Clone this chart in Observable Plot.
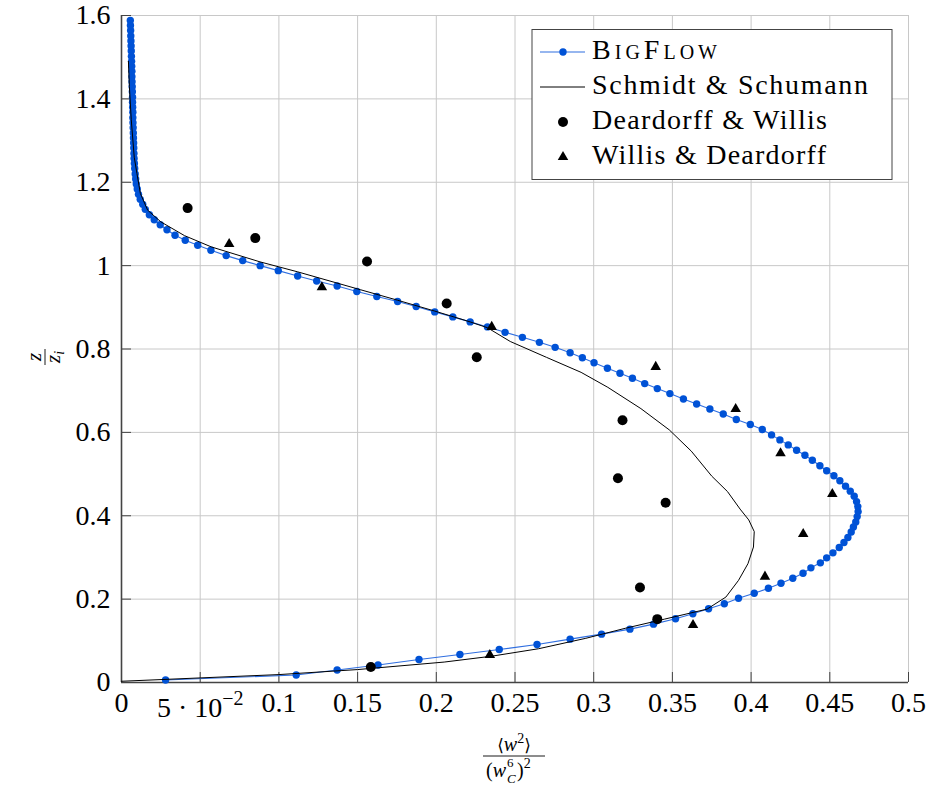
<!DOCTYPE html>
<html>
<head>
<meta charset="utf-8">
<script src="https://cdn.jsdelivr.net/npm/d3@7"></script>
<script src="https://cdn.jsdelivr.net/npm/@observablehq/plot@0.6"></script>
<style>
  body { margin: 0; background: #fff; }
  #chart { width: 928px; height: 787px; }
</style>
</head>
<body>
<div id="chart"></div>
<script>
// Vertical velocity variance profiles in a convective boundary layer: [<w²>/(w_C)², z/z_i]
const bigflowProfile = [
  [0.028,0.006],[0.111,0.018],[0.137,0.030],[0.163,0.042],[0.189,0.055],[0.215,0.067],
  [0.240,0.079],[0.264,0.091],[0.285,0.104],[0.305,0.116],[0.323,0.128],[0.338,0.140],
  [0.352,0.153],[0.363,0.165],[0.373,0.177],[0.383,0.189],[0.392,0.202],[0.402,0.214],
  [0.411,0.226],[0.419,0.238],[0.4265,0.250],[0.433,0.262],[0.438,0.275],[0.444,0.287],
  [0.448,0.299],[0.452,0.311],[0.456,0.324],[0.459,0.336],[0.4615,0.348],[0.4636,0.361],
  [0.465,0.373],[0.4665,0.385],[0.4674,0.398],[0.468,0.410],[0.4678,0.422],[0.467,0.434],
  [0.4655,0.447],[0.463,0.459],[0.460,0.471],[0.4564,0.484],[0.4526,0.496],[0.448,0.508],
  [0.4437,0.520],[0.4389,0.533],[0.4342,0.545],[0.4289,0.557],[0.4236,0.570],[0.4183,0.582],
  [0.413,0.594],[0.4071,0.607],[0.3995,0.619],[0.3906,0.631],[0.3823,0.644],[0.3738,0.656],
  [0.3654,0.668],[0.357,0.680],[0.3484,0.693],[0.3404,0.705],[0.3324,0.717],[0.3246,0.730],
  [0.3167,0.742],[0.3087,0.754],[0.3002,0.767],[0.2928,0.779],[0.285,0.791],[0.2755,0.804],
  [0.2655,0.816],[0.2547,0.828],[0.2437,0.840],[0.2325,0.853],[0.2215,0.865],[0.2105,0.877],
  [0.199,0.889],[0.1872,0.902],[0.1754,0.914],[0.1622,0.926],[0.1495,0.938],[0.137,0.951],
  [0.124,0.963],[0.1119,0.975],[0.0996,0.988],[0.0881,1.000],[0.077,1.012],[0.0665,1.024],
  [0.0568,1.037],[0.0484,1.049],[0.0405,1.061],[0.034,1.073],[0.0289,1.086],[0.0246,1.098],
  [0.0208,1.110],[0.0177,1.122],[0.0151,1.135],[0.0135,1.147],[0.0119,1.159],[0.0108,1.171],
  [0.0100,1.184],[0.0094,1.196],[0.0090,1.208],[0.0087,1.220],[0.0084,1.233],[0.0082,1.245],
  [0.0080,1.257],[0.0079,1.269],[0.0078,1.282],[0.0077,1.294],[0.0076,1.306],[0.0075,1.318],
  [0.0074,1.331],[0.0073,1.343],[0.0072,1.355],[0.0072,1.368],[0.0071,1.380],[0.0070,1.392],
  [0.0070,1.404],[0.0069,1.417],[0.0068,1.429],[0.0067,1.441],[0.0066,1.453],[0.0066,1.466],
  [0.0065,1.478],[0.0064,1.490],[0.0063,1.502],[0.0062,1.515],[0.0061,1.527],[0.0060,1.539],
  [0.0059,1.551],[0.0058,1.564],[0.0057,1.576],[0.0056,1.588]
];

const schmidtSchumann = [
  [0.000,0.003],[0.050,0.011],[0.100,0.019],[0.150,0.031],[0.205,0.049],[0.235,0.063],
  [0.265,0.081],[0.295,0.106],[0.320,0.130],[0.345,0.152],[0.372,0.176],[0.384,0.205],
  [0.392,0.245],[0.398,0.285],[0.4015,0.325],[0.402,0.362],[0.3985,0.390],[0.393,0.416],
  [0.385,0.458],[0.375,0.495],[0.362,0.555],[0.348,0.606],[0.330,0.657],[0.309,0.708],
  [0.292,0.744],[0.270,0.780],[0.247,0.818],[0.2325,0.851],[0.2215,0.865],[0.199,0.891],
  [0.1754,0.917],[0.152,0.942],[0.112,0.985],[0.088,1.009],[0.057,1.045],[0.040,1.072],
  [0.025,1.105],[0.0166,1.133],[0.012,1.173],[0.0098,1.221],[0.0081,1.260],[0.0062,1.350],
  [0.0050,1.430],[0.0044,1.490]
];

const deardorffWillis = [
  [0.042,1.138],[0.085,1.066],[0.156,1.010],[0.2066,0.909],[0.2257,0.780],[0.3183,0.629],
  [0.3154,0.490],[0.3457,0.431],[0.3294,0.228],[0.3404,0.152],[0.1584,0.037]
];

const willisDeardorff = [
  [0.0684,1.052],[0.1273,0.948],[0.2352,0.853],[0.3394,0.757],[0.3902,0.656],[0.4187,0.550],
  [0.4516,0.452],[0.4331,0.356],[0.4088,0.254],[0.3631,0.138],[0.234,0.066]
];

const seriesNames = ["BigFlow", "Schmidt & Schumann", "Deardorff & Willis", "Willis & Deardorff"];

const xTicks = [0, 0.05, 0.1, 0.15, 0.2, 0.25, 0.3, 0.35, 0.4, 0.45, 0.5];
const xTickLabels = ["0", "5 · 10^−2", "0.1", "0.15", "0.2", "0.25", "0.3", "0.35", "0.4", "0.45", "0.5"];
const yTicks = [0, 0.2, 0.4, 0.6, 0.8, 1, 1.2, 1.4, 1.6];
const yTickLabels = ["0", "0.2", "0.4", "0.6", "0.8", "1", "1.2", "1.4", "1.6"];

const blueDot = "#0052d6";
const blueLine = "#2f6ee0";
const gridColor = "#c8c8c8";
const axisColor = "#444";
const serif = '"Liberation Serif", "Times New Roman", serif';

const W = 928, H = 787;
const mL = 121, mR = 20, mT = 15, mB = 105;
const frameW = W - mL - mR, frameH = H - mT - mB;

const toRows = arr => arr.map(([x, z]) => ({x, z}));
const xLabelOf = new Map(xTicks.map((t, i) => [t, xTickLabels[i]]));
const yLabelOf = new Map(yTicks.map((t, i) => [t, yTickLabels[i]]));

const plot = Plot.plot({
  width: W, height: H,
  marginLeft: mL, marginRight: mR, marginTop: mT, marginBottom: mB,
  style: {fontFamily: serif, fontSize: "28px", background: "#fff", color: "#000", overflow: "visible"},
  x: {domain: [0, 0.5]},
  y: {domain: [0, 1.6]},
  marks: [
    Plot.gridX(xTicks, {stroke: gridColor, strokeOpacity: 1, strokeWidth: 1}),
    Plot.gridY(yTicks, {stroke: gridColor, strokeOpacity: 1, strokeWidth: 1}),
    // inward tick marks on the bottom and left axes
    Plot.ruleX(xTicks, {x: d => d, insetTop: frameH - 10, stroke: axisColor, strokeWidth: 1}),
    Plot.ruleY(yTicks, {y: d => d, insetRight: frameW - 10, stroke: axisColor, strokeWidth: 1}),
    Plot.ruleX([0], {stroke: axisColor, strokeWidth: 1.6}),
    Plot.ruleY([0], {stroke: axisColor, strokeWidth: 1.6}),
    Plot.axisX(xTicks, {tickSize: 0, tickPadding: 10, tickFormat: d => xLabelOf.get(d), label: null, fontSize: 28}),
    Plot.axisY(yTicks, {tickSize: 0, tickPadding: 11, tickFormat: d => yLabelOf.get(d), label: null, fontSize: 28}),
    // BigFlow profile
    Plot.line(toRows(bigflowProfile), {x: "x", y: "z", stroke: blueLine, strokeWidth: 1.1}),
    Plot.dot(toRows(bigflowProfile), {x: "x", y: "z", r: 3.7, fill: blueDot}),
    // Schmidt & Schumann
    Plot.line(toRows(schmidtSchumann), {x: "x", y: "z", stroke: "#000", strokeWidth: 1}),
    // Deardorff & Willis
    Plot.dot(toRows(deardorffWillis), {x: "x", y: "z", r: 5, fill: "#000"}),
    // Willis & Deardorff
    Plot.dot(toRows(willisDeardorff), {x: "x", y: "z", r: 3.9, symbol: "triangle", fill: "#000"})
  ]
});

document.getElementById("chart").appendChild(plot);
const svg = d3.select(plot);

// tick label with a power of ten
svg.selectAll('g[aria-label="x-axis tick label"] text').each(function () {
  const t = this.textContent;
  if (t.includes("^")) {
    const [base, exp] = t.split("^");
    const sel = d3.select(this);
    sel.text(null);
    sel.append("tspan").attr("dy", 5).text(base);
    sel.append("tspan").attr("dy", -12).attr("font-size", 20).text(exp);
  }
});

// legend
const legend = svg.append("g").attr("font-family", serif).attr("font-size", 28).attr("text-anchor", "start");
legend.append("rect")
  .attr("x", 532).attr("y", 29.5).attr("width", 360).attr("height", 150)
  .attr("fill", "#fff").attr("stroke", "#444").attr("stroke-width", 1);
const rowY = [59, 94, 129, 164];
const rowTextWidth = [125, 276, 235, 234];
const sx0 = 540, sx1 = 585, sxm = 563, tx = 592;
// BigFlow sample
legend.append("line").attr("x1", sx0).attr("x2", sx1).attr("y1", rowY[0] - 7).attr("y2", rowY[0] - 7)
  .attr("stroke", blueLine).attr("stroke-width", 1.1);
legend.append("circle").attr("cx", sxm).attr("cy", rowY[0] - 7).attr("r", 3.7).attr("fill", blueDot);
// Schmidt & Schumann sample
legend.append("line").attr("x1", sx0).attr("x2", sx1).attr("y1", rowY[1] - 7).attr("y2", rowY[1] - 7)
  .attr("stroke", "#000").attr("stroke-width", 1);
// Deardorff & Willis sample
legend.append("circle").attr("cx", sxm).attr("cy", rowY[2] - 7).attr("r", 5).attr("fill", "#000");
// Willis & Deardorff sample
legend.append("path").attr("transform", `translate(${sxm},${rowY[3] - 7})`)
  .attr("d", d3.symbol(d3.symbolTriangle, 3.9 * 3.9 * Math.PI)()).attr("fill", "#000");
seriesNames.forEach((name, i) => {
  const t = legend.append("text").attr("x", tx).attr("y", rowY[i]).attr("text-anchor", "start")
    .attr("textLength", rowTextWidth[i]).attr("lengthAdjust", "spacing").text(name);
  if (i === 0) t.style("font-variant", "small-caps");
});

// x-axis label: <w²> / (w_C^6)²
const xl = svg.append("g").attr("font-family", serif).attr("font-size", 20);
const num = xl.append("text").attr("x", 514).attr("y", 751).attr("text-anchor", "middle");
num.append("tspan").attr("font-family", '"DejaVu Serif", serif').attr("font-size", 17).text("⟨");
num.append("tspan").attr("font-style", "italic").text("w");
num.append("tspan").attr("dy", -8).attr("font-size", 14).text("2");
num.append("tspan").attr("dy", 8).attr("font-family", '"DejaVu Serif", serif').attr("font-size", 17).text("⟩");
xl.append("line").attr("x1", 483).attr("x2", 545).attr("y1", 756).attr("y2", 756)
  .attr("stroke", "#000").attr("stroke-width", 0.9);
// denominator: base, then the stacked script pieces as separate texts
const den = xl.append("text").attr("x", 506).attr("y", 777).attr("text-anchor", "end");
den.append("tspan").text("(");
den.append("tspan").attr("font-style", "italic").text("w");
xl.append("text").attr("x", 507).attr("y", 767).attr("font-size", 13).attr("text-anchor", "start").text("6");
xl.append("text").attr("x", 507).attr("y", 783).attr("font-size", 13).attr("font-style", "italic")
  .attr("text-anchor", "start").text("C");
const den2 = xl.append("text").attr("x", 517).attr("y", 777).attr("text-anchor", "start");
den2.append("tspan").text(")");
den2.append("tspan").attr("dy", -9).attr("font-size", 14).text("2");

// y-axis label: z / z_i
const yl = svg.append("g").attr("font-family", serif).attr("font-size", 21)
  .attr("transform", "translate(45,357) rotate(-90)");
yl.append("text").attr("x", 0).attr("y", -4).attr("text-anchor", "middle")
  .attr("font-style", "italic").text("z");
yl.append("line").attr("x1", -8).attr("x2", 8).attr("y1", 0).attr("y2", 0)
  .attr("stroke", "#000").attr("stroke-width", 0.9);
const yd = yl.append("text").attr("x", 0).attr("y", 15).attr("text-anchor", "middle").attr("font-style", "italic");
yd.append("tspan").text("z");
yd.append("tspan").attr("dy", 4).attr("font-size", 14).text("i");
</script>
</body>
</html>
